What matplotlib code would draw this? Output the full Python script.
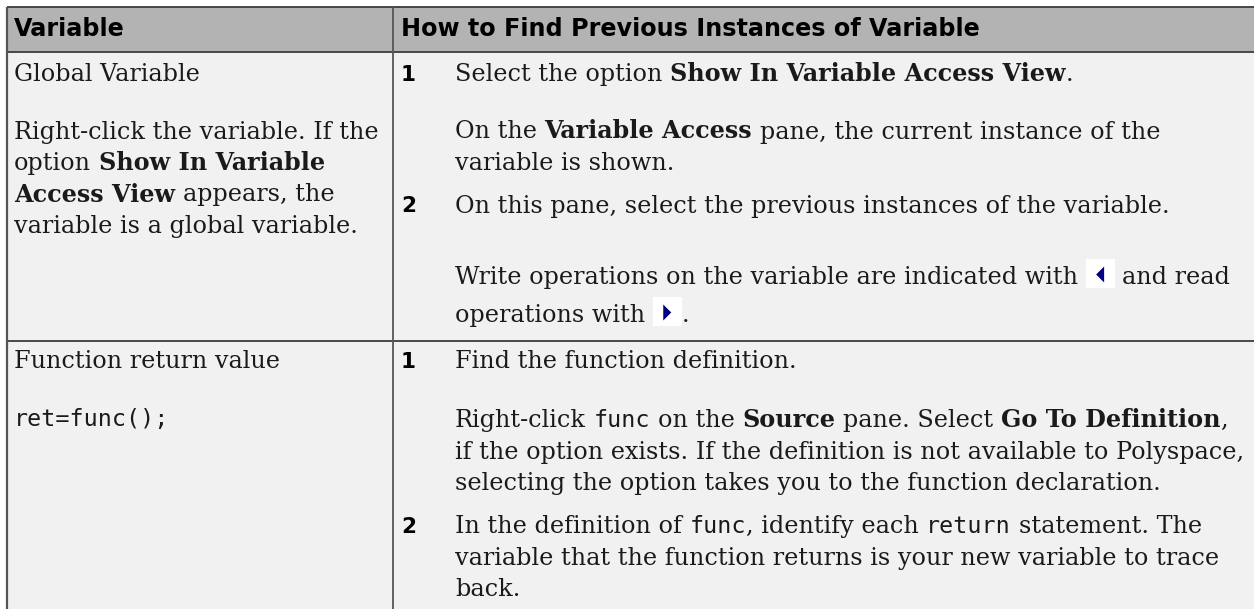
import matplotlib
matplotlib.use("Agg")
import matplotlib.pyplot as plt
from matplotlib.font_manager import FontProperties
from matplotlib.patches import Rectangle, Polygon

# ---------------- content ----------------
headers = ["Variable", "How to Find Previous Instances of Variable"]

row1_left = [
    [("Global Variable", "serif")],
    None,
    [("Right-click the variable. If the", "serif")],
    [("option ", "serif"), ("Show In Variable", "bold")],
    [("Access View", "bold"), (" appears, the", "serif")],
    [("variable is a global variable.", "serif")],
]
row1_right = [
    [("Select the option ", "serif"), ("Show In Variable Access View", "bold"), (".", "serif")],
    [("On the ", "serif"), ("Variable Access", "bold"), (" pane, the current instance of the", "serif")],
    [("variable is shown.", "serif")],
    [("On this pane, select the previous instances of the variable.", "serif")],
    [("Write operations on the variable are indicated with ", "serif"), ("", "icon_left"),
     (" and read", "serif")],
    [("operations with ", "serif"), ("", "icon_right"), (".", "serif")],
]
row1_steps = {0: "1", 3: "2"}
row2_left = [
    [("Function return value", "serif")],
    [("ret=func();", "mono")],
]
row2_right = [
    [("Find the function definition.", "serif")],
    [("Right-click ", "serif"), ("func", "mono"), (" on the ", "serif"), ("Source", "bold"),
     (" pane. Select ", "serif"), ("Go To Definition", "bold"), (",", "serif")],
    [("if the option exists. If the definition is not available to Polyspace,", "serif")],
    [("selecting the option takes you to the function declaration.", "serif")],
    [("In the definition of ", "serif"), ("func", "mono"), (", identify each ", "serif"),
     ("return", "mono"), (" statement. The", "serif")],
    [("variable that the function returns is your new variable to trace", "serif")],
    [("back.", "serif")],
]
row2_steps = {0: "1", 4: "2"}

# ---------------- layout (pixels) ----------------
W, H = 1254, 609
fig = plt.figure(figsize=(W / 100, H / 100), dpi=100)
ax = fig.add_axes([0, 0, 1, 1])
ax.set_xlim(0, W)
ax.set_ylim(H, 0)
ax.axis("off")

X0, Y0 = 7, 7
HEAD_B = 51.5
ROW1_B = 340.7
COL_X = 393.3
TXT_L = 14
NUM_X = 401
TXT_R = 455

FS = 17.2
FONTS = {
    "serif": FontProperties(family="DejaVu Serif", size=FS),
    "bold": FontProperties(family="DejaVu Serif", weight="bold", size=FS),
    "mono": FontProperties(family="DejaVu Sans Mono", size=16.8),
    "head": FontProperties(family="DejaVu Sans", weight="bold", size=17.2),
    "num": FontProperties(family="DejaVu Sans", weight="bold", size=15.5),
}
TXT_COLOR = "#1a1a1a"

# backgrounds
ax.add_patch(Rectangle((X0, Y0), W - X0, HEAD_B - Y0, facecolor="#b3b3b3", edgecolor="none"))
ax.add_patch(Rectangle((X0, HEAD_B), W - X0, H - HEAD_B, facecolor="#f1f1f1", edgecolor="none"))

# grid lines
lc = "#3c3c3c"
ax.plot([X0, W], [Y0, Y0], color=lc, lw=1.3, solid_capstyle="butt")
ax.plot([X0, W], [HEAD_B, HEAD_B], color=lc, lw=1.3, solid_capstyle="butt")
ax.plot([X0, W], [ROW1_B, ROW1_B], color=lc, lw=1.3, solid_capstyle="butt")
ax.plot([X0, X0], [Y0, H], color="#555555", lw=1.6, solid_capstyle="butt")
ax.plot([COL_X, COL_X], [Y0, H], color="#555555", lw=1.3, solid_capstyle="butt")

fig.canvas.draw()
renderer = fig.canvas.get_renderer()


def measure(s, fp):
    w, h, d = renderer.get_text_width_height_descent(s, fp, ismath=False)
    return w


def space_w(fp):
    return measure("a a", fp) - measure("aa", fp)


ICON_W = 29


def draw_icon(x, y, kind):
    ax.add_patch(Rectangle((x, y + 4 - ICON_W), ICON_W, ICON_W, facecolor="white", edgecolor="none"))
    cx = x + ICON_W / 2
    cy = y + 4 - ICON_W / 2 + 1
    if kind == "icon_left":
        pts = [(cx + 4, cy - 8), (cx + 4, cy + 8), (cx - 4, cy)]
    else:
        pts = [(cx - 4, cy - 8), (cx - 4, cy + 8), (cx + 4, cy)]
    ax.add_patch(Polygon(pts, closed=True, facecolor="#000080", edgecolor="none"))


def draw_runs(x, y, runs, color=TXT_COLOR):
    for text, style in runs:
        if style.startswith("icon"):
            draw_icon(x, y, style)
            x += ICON_W
            continue
        fp = FONTS[style]
        sw = space_w(FONTS["serif"] if style != "mono" else fp)
        lead = len(text) - len(text.lstrip(" "))
        trail = len(text) - len(text.rstrip(" "))
        core = text.strip(" ")
        x += lead * sw
        if core:
            ax.text(x, y, core, fontproperties=fp, color=color, ha="left", va="baseline")
            x += measure(core, fp)
        x += trail * sw
    return x


# header
head_base = 36.5
draw_runs(TXT_L, head_base, [(headers[0], "head")], color="black")
draw_runs(NUM_X, head_base, [(headers[1], "head")], color="black")

# row 1 left
r1_left_base = [81.0, None, 138.5, 170, 201.5, 233]
for runs, yb in zip(row1_left, r1_left_base):
    if runs:
        draw_runs(TXT_L, yb, runs)

# row 1 right
r1_right_base = [81.0, 138.5, 170, 212.5, 284, 322]
for i, (runs, yb) in enumerate(zip(row1_right, r1_right_base)):
    if i in row1_steps:
        draw_runs(NUM_X, yb, [(row1_steps[i], "num")], color="black")
    draw_runs(TXT_R, yb, runs)

# row 2 left
r2_left_base = [368.5, 426]
for runs, yb in zip(row2_left, r2_left_base):
    draw_runs(TXT_L, yb, runs)

# row 2 right
r2_right_base = [368.5, 427, 458.5, 490, 533, 564.5, 595.5]
for i, (runs, yb) in enumerate(zip(row2_right, r2_right_base)):
    if i in row2_steps:
        draw_runs(NUM_X, yb, [(row2_steps[i], "num")], color="black")
    draw_runs(TXT_R, yb, runs)

fig.savefig("out.png", dpi=100, facecolor="white")
